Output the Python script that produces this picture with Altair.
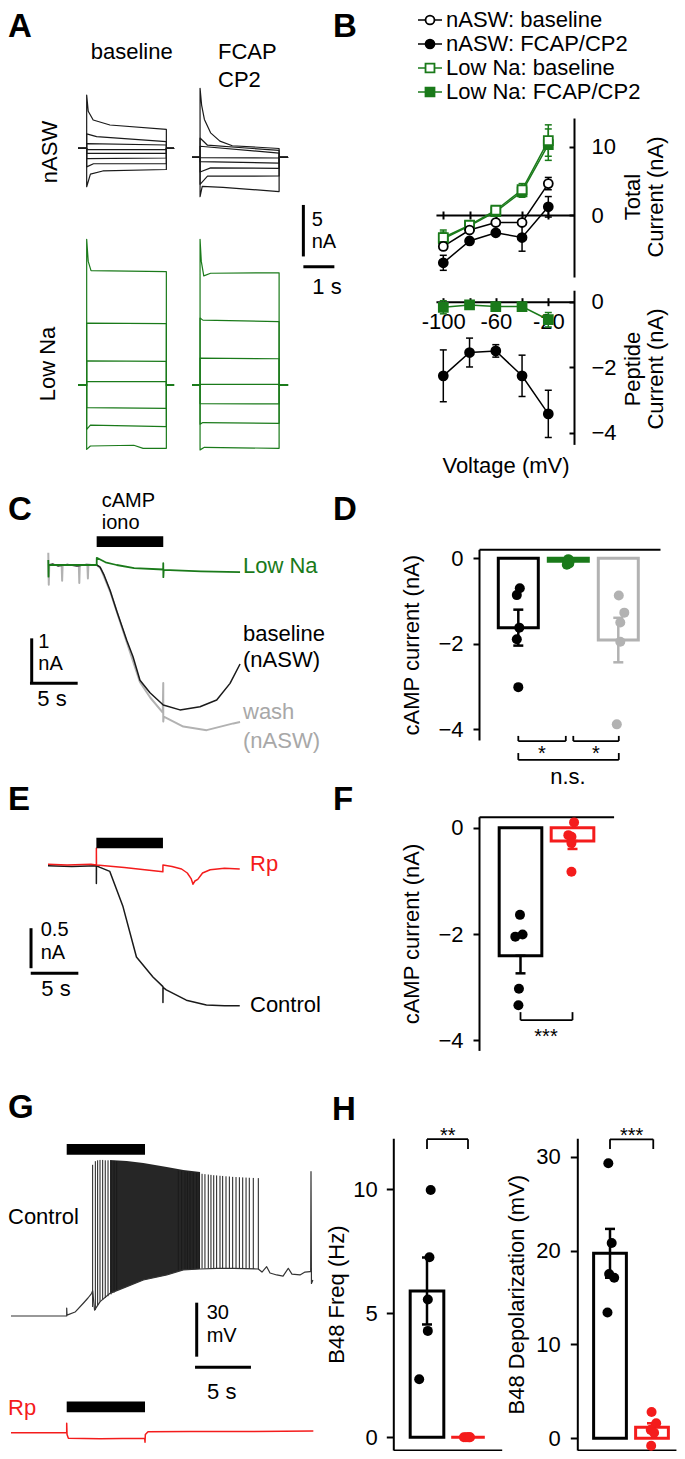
import altair as alt
import pandas as pd

FONT = "Liberation Sans"
INK = "#000000"
TRACE = "#1a1a1a"
GREEN = "#1a7a1a"
RED = "#f41c1c"
GRAY = "#b2b2b2"
W, H, M = 669, 1443, 8

# ======================= DATA =======================
# --- A: voltage-clamp current families (time s, current nA); points during the step
A_T_END = 3.1
A_T_ON_BASE, A_T_OFF_BASE = 0.28, 2.85
A_T_ON_FCAP, A_T_OFF_FCAP = 0.26, 2.81
A_HOLD_NASW_BASE, A_HOLD_NASW_FCAP = 0.0, -0.87
A_HOLD_LOWNA_BASE, A_HOLD_LOWNA_FCAP = 0.0, 0.0
A_NASW_BASE = [
    [(0.28, 5.17), (0.33, 3.6), (0.49, 2.75), (1.03, 2.26), (2.85, 1.84)],
    [(0.28, 1.40), (0.60, 1.13), (2.85, 0.64)],
    [(0.28, 0.45), (2.85, 0.32)],
    [(0.28, -0.12), (2.85, -0.12)],
    [(0.28, -0.50), (2.85, -0.50)],
    [(0.28, -1.00), (2.85, -0.94)],
    [(0.28, -1.80), (0.50, -1.50), (2.85, -1.48)],
    [(0.28, -3.73), (0.40, -2.50), (0.80, -2.20), (2.85, -2.06)],
]
A_NASW_FCAP = [
    [(0.26, 5.83), (0.31, 4.2), (0.40, 2.8), (0.60, 1.5), (0.90, 0.7), (1.30, 0.25), (2.81, -0.02)],
    [(0.26, 1.00), (0.50, 0.30), (2.81, -0.21)],
    [(0.26, 0.20), (2.81, -0.46)],
    [(0.26, -0.90), (2.81, -0.94)],
    [(0.26, -1.30), (2.81, -1.43)],
    [(0.26, -2.30), (0.60, -1.90), (2.81, -1.94)],
    [(0.26, -3.50), (0.50, -2.70), (2.81, -2.69)],
    [(0.26, -4.70), (0.33, -3.70), (1.00, -3.80), (2.81, -4.20)],
]
A_LOWNA_BASE = [
    [(0.28, 14.15), (0.33, 12.0), (0.42, 11.1), (2.85, 11.0)],
    [(0.28, 6.00), (2.85, 5.95)],
    [(0.28, 2.35), (2.85, 2.30)],
    [(0.28, 0.32), (2.85, 0.32)],
    [(0.28, -2.20), (2.85, -2.26)],
    [(0.28, -4.30), (0.40, -3.90), (2.85, -4.05)],
    [(0.28, -6.25), (0.40, -5.92), (1.80, -5.85), (2.10, -6.15), (2.85, -6.15)],
]
A_LOWNA_FCAP = [
    [(0.26, 14.15), (0.30, 12.0), (0.38, 10.6), (0.60, 10.85), (2.81, 10.9)],
    [(0.26, 6.50), (0.35, 6.30), (2.81, 6.15)],
    [(0.26, 2.60), (2.81, 2.55)],
    [(0.26, 0.07), (2.81, 0.07)],
    [(0.26, -1.80), (2.81, -1.84)],
    [(0.26, -3.80), (0.35, -3.65), (2.81, -3.72)],
    [(0.26, -6.30), (0.40, -6.05), (2.81, -6.15)],
]

# --- B: I-V relations (mV, nA)
B_SERIES = ["nASW: baseline", "nASW: FCAP/CP2", "Low Na: baseline", "Low Na: FCAP/CP2"]
B_V = [-100, -80, -60, -40, -20]
TOT_NASW_BASE = [-4.6, -2.2, -1.1, -1.1, 4.6]
TOT_NASW_BASE_ERR = [0.5, 0.4, 0.3, 0.4, 0.9]
TOT_NASW_FCAP = [-7.0, -3.8, -2.6, -3.3, 1.2]
TOT_NASW_FCAP_ERR = [1.1, 0.5, 0.4, 2.0, 1.5]
TOT_LOWNA_BASE = [-3.3, -1.5, 0.7, 3.7, 10.9]
TOT_LOWNA_BASE_ERR = [1.1, 0.5, 0.4, 0.9, 2.3]
TOT_LOWNA_FCAP = [-3.5, -1.6, 0.5, 3.4, 10.3]
TOT_LOWNA_FCAP_ERR = [1.0, 0.5, 0.4, 0.8, 2.3]
PEP_NASW = [-2.26, -1.55, -1.50, -2.26, -3.42]
PEP_NASW_ERR = [0.79, 0.44, 0.19, 0.63, 0.72]
PEP_LOWNA = [-0.17, -0.10, -0.15, -0.15, -0.55]
PEP_LOWNA_ERR = [0.20, 0.12, 0.10, 0.10, 0.22]

# --- C: cAMP/iono currents (s, nA)
C_T_BASE = [0.0, 0.5, 1.0, 2.0, 3.0, 4.0, 5.07, 5.41, 5.84, 6.47, 7.2, 8.22, 8.88, 9.61, 10.66, 12.05, 13.8, 15.9, 17.65, 19.05, 20.1]
C_V_BASE = [0.0, 0.02, -0.02, 0.01, -0.02, 0.01, 0.0, -0.04, -0.22, -0.56, -1.04, -1.67, -2.04, -2.56, -2.84, -3.11, -3.22, -3.15, -3.0, -2.63, -2.2]
C_T_WASH = [0.0, 0.05, 0.1, 1.4, 1.45, 1.5, 3.2, 3.25, 3.3, 4.1, 4.15, 4.2, 5.07, 5.5, 6.5, 8.2, 9.6, 10.7, 12.0, 12.05, 12.05, 12.1, 14.15, 16.6, 19.4, 20.1]
C_V_WASH = [0.27, -0.44, 0.0, 0.0, -0.35, 0.0, 0.0, -0.4, 0.0, 0.0, -0.3, 0.0, 0.0, -0.08, -0.6, -1.7, -2.6, -2.95, -3.28, -2.62, -3.48, -3.37, -3.59, -3.67, -3.52, -3.49]
C_T_LOWNA = [0.0, 0.02, 0.04, 5.07, 5.08, 6.0, 7.17, 9.0, 12.04, 12.05, 12.06, 12.1, 16.0, 20.1]
C_V_LOWNA = [0.11, -0.26, 0.0, 0.0, 0.16, 0.06, 0.0, -0.07, -0.1, 0.04, -0.27, -0.11, -0.14, -0.16]
C_STIM = (5.07, 12.05)

# --- D: cAMP current bars (nA)
D_MEAN = [-1.62, -0.07, -1.91]
D_LO = [-2.04, -0.10, -2.43]
D_HI = [-1.20, -0.04, -1.39]
D_PTS = [[-0.70, -0.86, -1.62, -1.89, -3.01],
         [-0.02, -0.05, -0.08, -0.12, -0.15],
         [-0.87, -1.27, -1.50, -1.95, -3.88]]
D_JIT = [[0.03, -0.03, 0.02, -0.03, 0.0],
         [0.0, 0.03, -0.02, 0.02, -0.03],
         [0.01, 0.12, 0.04, 0.04, -0.03]]

# --- E: Rp block (s, nA)
E_T_CTRL = [0, 2.5, 5.07, 5.07, 5.08, 5.45, 6.48, 7.86, 9.27, 11.0, 12.05, 12.05, 12.06, 12.4, 14.5, 16.6, 18.5, 20.1]
E_V_CTRL = [-0.01, -0.02, -0.01, -0.23, -0.01, -0.03, -0.08, -0.52, -1.15, -1.40, -1.52, -1.72, -1.53, -1.56, -1.69, -1.75, -1.76, -1.76]
E_T_RP = [0, 2.0, 4.5, 5.07, 5.07, 5.08, 8.0, 12.04, 12.05, 13.0, 14.0, 14.6, 15.0, 15.2, 15.4, 15.7, 16.2, 17.0, 18.5, 20.1]
E_V_RP = [0.01, 0.0, 0.01, 0.0, 0.21, 0.0, -0.03, -0.085, 0.0, -0.02, -0.05, -0.10, -0.17, -0.24, -0.20, -0.18, -0.10, -0.06, -0.04, -0.05]
E_STIM = (5.07, 12.05)

# --- F: cAMP current with Rp (nA)
F_MEAN = [-2.41, -0.25]
F_LO = [-2.74, -0.40]
F_PTS = [[-1.64, -2.05, -2.01, -3.03, -3.34], [0.10, -0.14, -0.17, -0.29, -0.83]]
F_JIT = [[-0.01, -0.10, 0.04, -0.03, -0.04], [0.03, -0.08, -0.02, -0.02, -0.02]]

# --- G: B48 membrane potential (s, mV relative to rest)
G_T_BASE = [0, 5.0, 5.0, 5.03, 5.75, 6.49, 6.91, 7.24, 7.33, 7.5, 8.0, 8.89, 10.39, 11.88, 13.98, 15.47, 16.97, 18.5, 20.0, 22.2,
            22.53, 22.95, 23.25, 23.85, 24.42, 24.89, 25.22, 25.94, 26.39, 26.84, 26.9, 26.93, 26.97, 27.1]
G_V_BASE = [0, 0, 4.4, 0.5, 2.2, 7.1, 10.0, 12.6, 14.0, 3.3, 8.0, 12.6, 16.3, 20.0, 22.8, 25.6, 26.1, 26.5, 26.5, 26.1,
            24.4, 27.4, 23.9, 22.8, 22.2, 26.5, 23.3, 22.8, 24.4, 24.6, 24.6, 80.2, 18.1, 20.0]
G_ENV_T = [8.89, 10.39, 11.88, 13.98, 15.47, 16.97]
G_ENV_HI = [86.7, 86.1, 85.0, 82.8, 81.1, 80.0]
G_ENV_LO = [12.6, 16.3, 20.0, 22.8, 25.6, 26.1]
G_SPK_T = [7.33, 7.57, 7.78, 7.99, 8.23, 8.46, 8.71, 8.98, 9.25, 9.49,
           15.02, 15.32, 15.62, 15.83, 16.07, 16.36, 16.67, 16.9, 17.15, 17.41, 17.71, 17.95, 18.2, 18.46,
           18.76, 19.0, 19.3, 19.6, 19.9, 20.2, 20.5, 20.8, 21.1, 21.39, 21.75, 22.2]
G_SPK_PEAK = [84.0, 86.0, 86.5, 86.7, 86.7, 86.5, 86.5, 86.3, 86.2, 86.1,
              80.8, 80.6, 80.3, 80.1, 79.9, 79.6, 79.4, 79.2, 79.0, 78.8, 78.6, 78.4, 78.2, 78.1,
              77.9, 77.8, 77.6, 77.5, 77.3, 77.2, 77.1, 77.0, 76.9, 76.8, 76.7, 76.6]
G_SPK_TROUGH = [5.0, 3.3, 6.0, 8.0, 9.0, 10.0, 11.0, 12.0, 13.0, 14.0,
                25.6, 25.8, 26.0, 26.0, 26.1, 26.2, 26.3, 26.3, 26.4, 26.4, 26.5, 26.5, 26.5, 26.5,
                26.5, 26.5, 26.4, 26.4, 26.4, 26.3, 26.3, 26.2, 26.2, 26.1, 26.1, 26.0]
G_T_RP = [0, 5.0, 5.0, 5.03, 5.15, 8.0, 12.0, 12.03, 12.06, 12.3, 16.0, 20.0, 27.14]
G_V_RP = [0, 0, 5.2, -1.0, -3.1, -3.3, -3.1, -5.3, -1.0, 0.55, 0.7, 0.6, 0.9]
G_STIM = (5.0, 12.03)

# --- H: B48 responses
HF_MEAN = [5.9, 0.0]
HF_LO = [4.55, None]
HF_HI = [7.25, None]
HF_PTS = [[9.97, 7.26, 5.56, 4.29, 2.34], [0.0, 0.0, 0.0, 0.0, 0.0]]
HF_JIT = [[0.09, 0.06, 0.02, 0.02, -0.19], [-0.10, -0.05, 0.0, 0.03, 0.05]]
HD_MEAN = [19.7, 1.17]
HD_LO = [17.1, 0.7]
HD_HI = [22.3, 1.6]
HD_PTS = [[29.3, 20.8, 17.5, 17.1, 13.4], [2.8, 1.6, 0.9, 0.6, -0.8]]
HD_JIT = [[-0.04, 0.04, -0.02, 0.10, -0.06], [-0.01, 0.10, -0.03, 0.05, -0.02]]

# ======================= HELPERS =======================
DUMMY = pd.DataFrame({"d": [0]})


def sx(a, b, v0, p0, k):
    return alt.Scale(domain=[a, b], range=[p0 + (a - v0) * k - M, p0 + (b - v0) * k - M], nice=False, zero=False)


def sy(a, b, v0, p0, k):
    return alt.Scale(domain=[a, b], range=[p0 - (a - v0) * k - M, p0 - (b - v0) * k - M], nice=False, zero=False)


def series(t, v):
    return pd.DataFrame({"t": t, "v": v, "i": list(range(len(t))), "tr": 0})


def step_family(traces, hold, t_on, t_off, t_end):
    rows = []
    for k, pts in enumerate(traces):
        seq = [(0.0, hold), (t_on, hold)] + list(pts) + [(t_off, hold), (t_end, hold)]
        rows += [{"tr": k, "i": j, "t": t, "v": v} for j, (t, v) in enumerate(seq)]
    return pd.DataFrame(rows)


def trace(df, scx, scy, color, width=1.2):
    return alt.Chart(df).mark_line(color=color, strokeWidth=width, strokeJoin="round").encode(
        x=alt.X("t:Q", scale=scx, axis=None), y=alt.Y("v:Q", scale=scy, axis=None),
        detail="tr:N", order="i:Q")


def segs(rows, scx, scy, color=INK, width=2.0):
    df = pd.DataFrame(rows, columns=["x", "x2", "y", "y2"])
    return alt.Chart(df).mark_rule(color=color, strokeWidth=width).encode(
        x=alt.X("x:Q", scale=scx, axis=None), x2="x2:Q",
        y=alt.Y("y:Q", scale=scy, axis=None), y2="y2:Q")


def rect(x0, x1, y0, y1, scx, scy, color=INK):
    df = pd.DataFrame({"x": [x0], "x2": [x1], "y": [y0], "y2": [y1]})
    return alt.Chart(df).mark_rect(color=color).encode(
        x=alt.X("x:Q", scale=scx, axis=None), x2="x2:Q",
        y=alt.Y("y:Q", scale=scy, axis=None), y2="y2:Q")


def bracket(x0, x1, y, dy, scx, scy):
    return segs([(x0, x0, y + dy, y), (x0, x1, y, y), (x1, x1, y, y + dy)], scx, scy, width=1.8)


def txt(s, X, Y, size=22, color=INK, align="left", angle=0, weight="normal", baseline="middle"):
    return alt.Chart(DUMMY).mark_text(text=s, align=align, baseline=baseline, fontSize=size, font=FONT,
                                      color=color, angle=angle, fontWeight=weight).encode(
        x=alt.value(max(X - M, 0)), y=alt.value(Y - M))


def carrier(scx, scy, xaxis=None, yaxis=None):
    df = pd.DataFrame({"x": [scx.domain[0]], "y": [scy.domain[0]]})
    return alt.Chart(df).mark_point(opacity=0).encode(
        x=alt.X("x:Q", scale=scx, axis=xaxis), y=alt.Y("y:Q", scale=scy, axis=yaxis))


def bar_group(scx, scy, i, mean, lo, hi, pts, jit, color, half, cap=10, psize=100):
    out = []
    bar = pd.DataFrame({"x0": [i - half], "x1": [i + half], "top": [mean], "base": [0.0]})
    out.append(alt.Chart(bar).mark_rect(fill="white", stroke=color, strokeWidth=3).encode(
        x=alt.X("x0:Q", scale=scx, axis=None), x2="x1:Q",
        y=alt.Y("top:Q", scale=scy, axis=None), y2="base:Q"))
    if lo is not None:
        err = pd.DataFrame({"x": [i], "lo": [lo], "hi": [hi]})
        out.append(alt.Chart(err).mark_rule(color=color, strokeWidth=2.5).encode(
            x=alt.X("x:Q", scale=scx, axis=None), y=alt.Y("lo:Q", scale=scy, axis=None), y2="hi:Q"))
        caps = pd.DataFrame({"x": [i, i], "y": [lo, hi]})
        out.append(alt.Chart(caps).mark_tick(orient="horizontal", size=cap, thickness=2.5, color=color, opacity=1).encode(
            x=alt.X("x:Q", scale=scx, axis=None), y=alt.Y("y:Q", scale=scy, axis=None)))
    p = pd.DataFrame({"x": [i + j for j in jit], "v": pts})
    out.append(alt.Chart(p).mark_circle(size=psize, color=color, opacity=1).encode(
        x=alt.X("x:Q", scale=scx, axis=None), y=alt.Y("v:Q", scale=scy, axis=None)))
    return out


def yleft(Xp, values, title, tpad, lpad=10, tick=6):
    return alt.Axis(orient="left", offset=-(Xp - M), values=values, title=title, titlePadding=tpad,
                    labelPadding=lpad, tickSize=tick, grid=False)


def xline(orient, Yp):
    off = (Yp - M) - H if orient == "bottom" else -(Yp - M)
    return alt.Axis(orient=orient, offset=off, ticks=False, labels=False, title=None, grid=False)


L = []

# ======================= PANEL A =======================
SAXB = sx(0, 3.2, 0, 78, 31)
SAXF = sx(0, 3.2, 0, 192, 31)
SAYN = sy(-12, 6, 0, 148.3, 10.3)
SAYL = sy(-8, 15, 0, 385, 10.3)
L.append(trace(step_family(A_NASW_BASE, A_HOLD_NASW_BASE, A_T_ON_BASE, A_T_OFF_BASE, A_T_END), SAXB, SAYN, TRACE))
L.append(trace(step_family(A_NASW_FCAP, A_HOLD_NASW_FCAP, A_T_ON_FCAP, A_T_OFF_FCAP, A_T_END), SAXF, SAYN, TRACE))
L.append(trace(step_family(A_LOWNA_BASE, A_HOLD_LOWNA_BASE, A_T_ON_BASE, A_T_OFF_BASE, A_T_END), SAXB, SAYL, GREEN))
L.append(trace(step_family(A_LOWNA_FCAP, A_HOLD_LOWNA_FCAP, A_T_ON_FCAP, A_T_OFF_FCAP, A_T_END), SAXF, SAYL, GREEN))
L.append(segs([(7.27, 7.27, -5.5, -10.5), (7.27, 8.27, -11.5, -11.5)], SAXB, SAYN, width=3))
L += [txt("A", 0, 27, 33, weight="bold"), txt("baseline", 131.7, 52, align="center"),
      txt("FCAP", 218, 52), txt("CP2", 218, 80),
      txt("nASW", 50, 152, align="center", angle=270), txt("Low Na", 48, 364, align="center", angle=270),
      txt("5", 311.7, 220, 20), txt("nA", 311.7, 242, 20), txt("1 s", 327, 287, align="center")]

# ======================= PANEL B =======================
SBX = sx(-105.6, -0.4, -100, 443.3, 1.3125)
SBYT = sy(-9.08, 14.2, 0, 215, 6.83)
SBYP = sy(-4.35, 0.35, 0, 301.7, 32.8)
ST = alt.Scale(domain=B_SERIES, range=[INK, INK, GREEN, GREEN])
SFILL = alt.Scale(domain=B_SERIES, range=["white", INK, "white", GREEN])
SSHAPE = alt.Scale(domain=B_SERIES, range=["circle", "circle", "square", "square"])
SW = alt.Scale(domain=B_SERIES, range=[1.5, 1.5, 2.6, 2.6])
SSIZE = alt.Scale(domain=B_SERIES, range=[80, 80, 100, 100])


def iv_frame(items):
    rows = []
    for name, vals, errs in items:
        for v, y, e in zip(B_V, vals, errs):
            rows.append({"s": name, "V": v, "I": y, "lo": y - e, "hi": y + e})
    return pd.DataFrame(rows)


tot = iv_frame([(B_SERIES[3], TOT_LOWNA_FCAP, TOT_LOWNA_FCAP_ERR), (B_SERIES[2], TOT_LOWNA_BASE, TOT_LOWNA_BASE_ERR),
                (B_SERIES[1], TOT_NASW_FCAP, TOT_NASW_FCAP_ERR), (B_SERIES[0], TOT_NASW_BASE, TOT_NASW_BASE_ERR)])
pep = iv_frame([(B_SERIES[3], PEP_LOWNA, PEP_LOWNA_ERR), (B_SERIES[1], PEP_NASW, PEP_NASW_ERR)])


def iv_layers(df, scy):
    x = alt.X("V:Q", scale=SBX, axis=None)
    caps = pd.concat([df.assign(c=df["lo"]), df.assign(c=df["hi"])])
    return [
        alt.Chart(df).mark_line().encode(x=x, y=alt.Y("I:Q", scale=scy, axis=None),
                                         stroke=alt.Stroke("s:N", scale=ST, legend=None),
                                         strokeWidth=alt.StrokeWidth("s:N", scale=SW, legend=None), detail="s:N"),
        alt.Chart(df).mark_rule(strokeWidth=1.5).encode(x=x, y=alt.Y("lo:Q", scale=scy, axis=None), y2="hi:Q",
                                                         stroke=alt.Stroke("s:N", scale=ST, legend=None)),
        alt.Chart(caps).mark_tick(orient="horizontal", size=7, thickness=1.5, opacity=1).encode(
            x=x, y=alt.Y("c:Q", scale=scy, axis=None), color=alt.Color("s:N", scale=ST, legend=None)),
        alt.Chart(df).mark_point(filled=True, opacity=1, strokeWidth=1.8).encode(
            x=x, y=alt.Y("I:Q", scale=scy, axis=None),
            shape=alt.Shape("s:N", scale=SSHAPE, legend=None), fill=alt.Fill("s:N", scale=SFILL, legend=None),
            stroke=alt.Stroke("s:N", scale=ST, legend=None), size=alt.Size("s:N", scale=SSIZE, legend=None)),
    ]


# axes for B
L.append(carrier(SBX, SBYT,
                 xaxis=alt.Axis(orient="bottom", offset=(215 - M) - H, values=B_V, labels=False, tickSize=4, title=None, grid=False),
                 yaxis=alt.Axis(orient="right", offset=(574 - M) - W, values=[0, 10], ticks=False, labelPadding=17,
                                title=None, grid=False)))
L.append(carrier(SBX, SBYT,
                 xaxis=alt.Axis(orient="top", offset=-(215 - M), values=B_V, labels=False, domain=False, tickSize=4, title=None, grid=False),
                 yaxis=alt.Axis(orient="left", offset=-(574 - M), values=[0, 10], labels=False, domain=False, tickSize=5, title=None, grid=False)))
L.append(carrier(SBX, SBYP,
                 xaxis=alt.Axis(orient="bottom", offset=(301.7 - M) - H, values=B_V, tickSize=4, labelPadding=6,
                                labelExpr="datum.value % 40 == 0 ? '' : toString(datum.value)", labelOverlap=False,
                                title=None, grid=False),
                 yaxis=alt.Axis(orient="right", offset=(574 - M) - W, values=[0, -2, -4], ticks=False, labelPadding=17,
                                title=None, grid=False)))
L.append(carrier(SBX, SBYP,
                 xaxis=alt.Axis(orient="top", offset=-(301.7 - M), values=B_V, labels=False, domain=False, tickSize=4, title=None, grid=False),
                 yaxis=alt.Axis(orient="left", offset=-(574 - M), values=[0, -2, -4], labels=False, domain=False, tickSize=5, title=None, grid=False)))
L += iv_layers(tot, SBYT)
L += iv_layers(pep, SBYP)

# legend for B
leg = pd.DataFrame({"s": B_SERIES})
LEGY = alt.Y("s:N", scale=alt.Scale(type="point", domain=B_SERIES, range=[20 - M, 92 - M], padding=0), axis=None)
L.append(alt.Chart(leg).mark_rule().encode(x=alt.value(418 - M), x2=alt.value(442 - M), y=LEGY,
                                            stroke=alt.Stroke("s:N", scale=ST, legend=None),
                                            strokeWidth=alt.StrokeWidth("s:N", scale=SW, legend=None)))
L.append(alt.Chart(leg).mark_point(filled=True, opacity=1, strokeWidth=1.8).encode(
    x=alt.value(430 - M), y=LEGY, shape=alt.Shape("s:N", scale=SSHAPE, legend=None),
    fill=alt.Fill("s:N", scale=SFILL, legend=None), stroke=alt.Stroke("s:N", scale=ST, legend=None),
    size=alt.Size("s:N", scale=SSIZE, legend=None)))
L.append(alt.Chart(leg).mark_text(align="left", baseline="middle", fontSize=22, font=FONT, color=INK).encode(
    x=alt.value(446 - M), y=LEGY, text="s:N"))
L += [txt("B", 333, 27, 33, weight="bold"), txt("Voltage (mV)", 506, 466, align="center"),
      txt("Total", 633, 197, align="center", angle=270), txt("Current (nA)", 656, 197, align="center", angle=270),
      txt("Peptide", 633, 369, align="center", angle=270), txt("Current (nA)", 656, 369, align="center", angle=270)]

# ======================= PANEL C =======================
SCX = sx(-2.5, 20.5, 0, 48.3, 9.54)
SCY = sy(-4, 1, 0, 565, 45)
L.append(trace(series(C_T_WASH, C_V_WASH), SCX, SCY, GRAY, 2.0))
L.append(trace(series(C_T_BASE, C_V_BASE), SCX, SCY, TRACE, 1.5))
L.append(trace(series(C_T_LOWNA, C_V_LOWNA), SCX, SCY, GREEN, 1.8))
L.append(rect(C_STIM[0], C_STIM[1], 0.40, 0.64, SCX, SCY))
L.append(segs([(-1.74, -1.74, -1.63, -2.63), (-1.92, 3.08, -2.63, -2.63)], SCX, SCY, width=3))
L += [txt("C", 0, 510, 33, weight="bold"), txt("cAMP", 101.7, 501, 20), txt("iono", 101.7, 523, 20),
      txt("Low Na", 243, 566, color=GREEN), txt("baseline", 243, 634), txt("(nASW)", 243, 660),
      txt("wash", 243, 712, color="#a8a8a8"), txt("(nASW)", 243, 741, color="#a8a8a8"),
      txt("1", 38.3, 642, 20), txt("nA", 38.3, 664, 20), txt("5 s", 52, 699, align="center")]

# ======================= PANEL D =======================
SDX = sx(-0.786, 2.834, 0, 518.3, 50)
SDY = sy(-4.245, 0.21, 0, 558.3, 42.8)
L.append(carrier(SDX, SDY, xaxis=xline("top", 549.3),
                 yaxis=yleft(479, [0, -2, -4], "cAMP current (nA)", 14)))
for k, col in enumerate([INK, GREEN, GRAY]):
    L += bar_group(SDX, SDY, k, D_MEAN[k], D_LO[k], D_HI[k], D_PTS[k], D_JIT[k], col, 0.4)
L.append(bracket(0.0, 0.95, -4.27, 0.12, SDX, SDY))
L.append(bracket(1.1, 2.01, -4.27, 0.12, SDX, SDY))
L.append(bracket(0.0, 2.01, -4.71, 0.16, SDX, SDY))
L += [txt("D", 333, 510, 33, weight="bold"), txt("*", 542, 760, 20, align="center", baseline="alphabetic"),
      txt("*", 596, 760, 20, align="center", baseline="alphabetic"), txt("n.s.", 568, 777, align="center")]

# ======================= PANEL E =======================
SEX = sx(-2.5, 20.5, 0, 48, 9.54)
SEY = sy(-2, 0.5, 0, 865, 80)
L.append(trace(series(E_T_CTRL, E_V_CTRL), SEX, SEY, TRACE, 1.5))
L.append(trace(series(E_T_RP, E_V_RP), SEX, SEY, RED, 1.5))
L.append(rect(E_STIM[0], E_STIM[1], 0.21, 0.34, SEX, SEY))
L.append(segs([(-1.78, -1.78, -0.79, -1.29), (-1.81, 3.18, -1.354, -1.354)], SEX, SEY, width=3))
L += [txt("E", 0, 800, 33, weight="bold"), txt("Rp", 250, 864, color=RED), txt("Control", 250, 1005),
      txt("0.5", 40.7, 930, 20), txt("nA", 40.7, 953, 20), txt("5 s", 56, 989, align="center")]

# ======================= PANEL F =======================
SFX = sx(-0.798, 1.79, 0, 520.5, 52)
SFY = sy(-4.19, 0.207, 0, 827.7, 53.15)
L.append(carrier(SFX, SFY, xaxis=xline("top", 816.7),
                 yaxis=yleft(479, [0, -2, -4], "cAMP current (nA)", 14)))
for k, col in enumerate([INK, RED]):
    L += bar_group(SFX, SFY, k, F_MEAN[k], F_LO[k], F_MEAN[k], F_PTS[k], F_JIT[k], col, 0.41)
L.append(bracket(0.0, 1.0, -3.62, 0.15, SFX, SFY))
L += [txt("F", 333, 800, 33, weight="bold"), txt("***", 546, 1043, 20, align="center", baseline="alphabetic")]

# ======================= PANEL G =======================
SGX = sx(-1, 28, 0, 11, 11.14)
SGYC = sy(-30, 100, 0, 1316, 1.8)
SGYR = sy(-10, 20, 0, 1432.7, 1.8)
genv = pd.DataFrame({"t": G_ENV_T, "hi": G_ENV_HI, "lo": G_ENV_LO})
L.append(alt.Chart(genv).mark_area(color=TRACE, opacity=0.95).encode(
    x=alt.X("t:Q", scale=SGX, axis=None), y=alt.Y("hi:Q", scale=SGYC, axis=None), y2="lo:Q"))
gspk = pd.DataFrame({"t": G_SPK_T, "pk": G_SPK_PEAK, "tr": G_SPK_TROUGH})
L.append(alt.Chart(gspk).mark_rule(color=TRACE, strokeWidth=1.0).encode(
    x=alt.X("t:Q", scale=SGX, axis=None), y=alt.Y("tr:Q", scale=SGYC, axis=None), y2="pk:Q"))
L.append(trace(series(G_T_BASE, G_V_BASE), SGX, SGYC, "#333333", 1.2))
L.append(trace(series(G_T_RP, G_V_RP), SGX, SGYR, RED, 1.5))
L.append(rect(G_STIM[0], G_STIM[1], 89.6, 95.6, SGX, SGYC))
L.append(rect(G_STIM[0], G_STIM[1], 11.4, 17.4, SGX, SGYR))
L.append(segs([(16.67, 16.67, 7.4, -22.6), (16.52, 21.54, -28.5, -28.5)], SGX, SGYC, width=3))
L += [txt("G", 0, 1108, 33, weight="bold"), txt("Control", 0, 1217), txt("Rp", 0, 1408, color=RED),
      txt("30", 206.7, 1313, 20), txt("mV", 206.7, 1336, 20), txt("5 s", 221.7, 1392, align="center")]

# ======================= PANEL H =======================
SH1X = sx(-0.822, 1.822, 0, 427, 41)
SH1Y = sy(-0.51, 12.06, 0, 1437.3, 24.8)
SH2X = sx(-0.779, 1.57, 0, 610, 42)
SH2Y = sy(-1.25, 31.95, 0, 1438.3, 9.39)
L.append(carrier(SH1X, SH1Y, xaxis=xline("bottom", 1450),
                 yaxis=yleft(393.3, [0, 5, 10], "B48 Freq (Hz)", 4, lpad=9, tick=7)))
L.append(carrier(SH2X, SH2Y, xaxis=xline("bottom", 1450),
                 yaxis=yleft(577.3, [0, 10, 20, 30], "B48 Depolarization (mV)", 7, lpad=10, tick=7)))
for k, col in enumerate([INK, RED]):
    L += bar_group(SH1X, SH1Y, k, HF_MEAN[k], HF_LO[k], HF_HI[k], HF_PTS[k], HF_JIT[k], col, 0.41)
    L += bar_group(SH2X, SH2Y, k, HD_MEAN[k], HD_LO[k], HD_HI[k], HD_PTS[k], HD_JIT[k], col, 0.39)
L.append(bracket(0.0, 1.0, 12.02, -0.39, SH1X, SH1Y))
L.append(bracket(0.0, 1.03, 31.84, -1.03, SH2X, SH2Y))
L += [txt("H", 332, 1110, 33, weight="bold"),
      txt("**", 447.7, 1142, 20, align="center", baseline="alphabetic"),
      txt("***", 631.7, 1142, 20, align="center", baseline="alphabetic")]

# ======================= COMPOSE =======================
chart = alt.layer(*L).resolve_scale(x="independent", y="independent").resolve_axis(
    x="independent", y="independent").properties(
    width=W, height=H, autosize=alt.AutoSizeParams(type="none"), padding=0
).configure_view(stroke=None).configure_axis(
    labelFont=FONT, titleFont=FONT, labelFontSize=22, titleFontSize=22, titleFontWeight="normal",
    labelColor=INK, titleColor=INK, domainColor=INK, tickColor=INK, domainWidth=2, tickWidth=2,
    grid=False, labelFlush=False
)

chart.save("out.html", embed_options={"renderer": "svg", "actions": False})
